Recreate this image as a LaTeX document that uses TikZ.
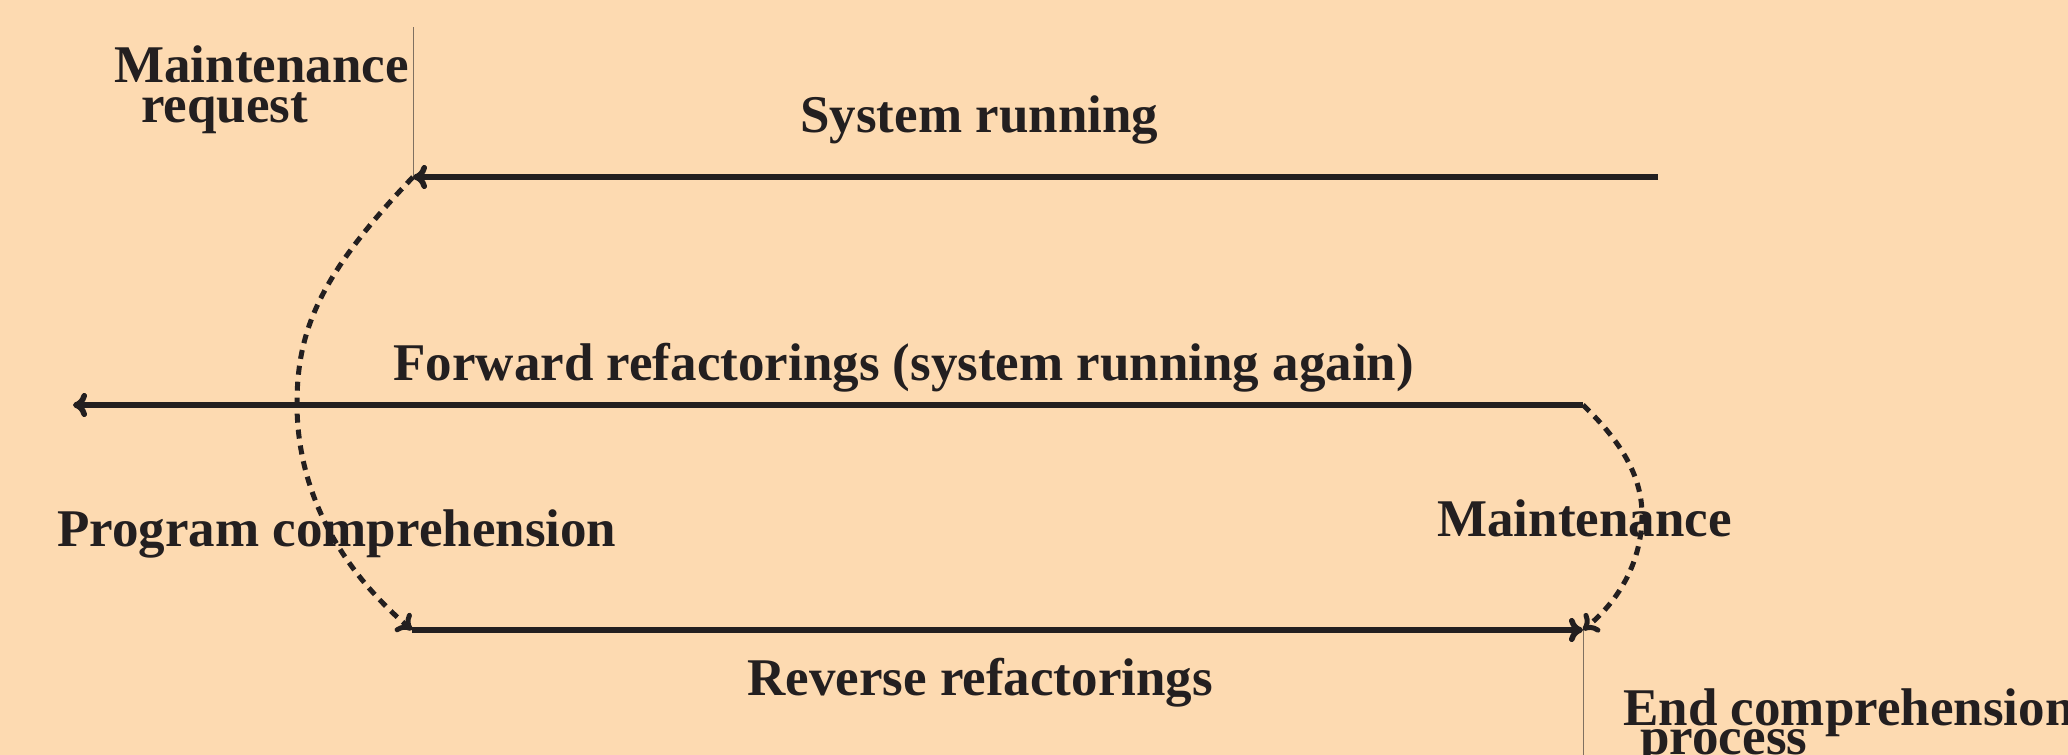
\documentclass[tikz,border=0pt]{standalone}
\usepackage{fontspec}
\setmainfont{Liberation Serif}
\usetikzlibrary{arrows.meta}

\definecolor{peach}{RGB}{253,218,177}
\definecolor{ink}{RGB}{35,31,32}
\definecolor{rulegray}{RGB}{128,112,96}

\tikzset{
  lbl/.style={anchor=base west, inner sep=0pt, text=ink,
    font=\fontsize{26.5}{26.5}\selectfont\bfseries},
  flow/.style={draw=ink, line width=2.8pt, -{To[length=7pt,width=12pt]}},
  dashedflow/.style={flow, line width=2.5pt, dash pattern=on 4.5pt off 3.5pt},
  thinrule/.style={draw=rulegray, line width=0.5pt}
}

\begin{document}
\begin{tikzpicture}[x=0.5pt, y=-0.5pt]
      \fill[peach] (0,0) rectangle (2068,755);
      \useasboundingbox (0,0) rectangle (2068,755);
      % labels
      \node[lbl] (mreq1) at (114,83) {Maintenance};
      \node[lbl] (mreq2) at (141,122) {request};
      \node[lbl] (sysrun) at (800,132) {System running};
      \node[lbl] (fwd) at (393,380) {Forward refactorings (system running again)};
      \node[lbl] (progcomp) at (57,546) {Program comprehension};
      \node[lbl] (maint) at (1437,536) {Maintenance};
      \node[lbl] (rev) at (747,695) {Reverse refactorings};
      \node[lbl] (endcomp1) at (1623,725) {End comprehension};
      \node[lbl] (endcomp2) at (1640,754) {process};
      % junction points
      \coordinate (reqtop) at (413,27);
      \coordinate (request) at (413,177);
      \coordinate (runstart) at (1658,177);
      \coordinate (fwdstart) at (1583,405);
      \coordinate (fwdend) at (73,405);
      \coordinate (revstart) at (412,630);
      \coordinate (revend) at (1583,630);
      \coordinate (endbot) at (1583,755);
      % time marks
      \draw[thinrule] (reqtop) -- (request);
      \draw[thinrule] (revend) -- (endbot);
      % phases
      \draw[flow] (runstart) -- (request);
      \draw[flow] (fwdstart) -- (fwdend);
      \draw[flow] (revstart) -- (revend);
      \draw[dashedflow] (request) .. controls (320,275) and (297,330) .. (297,404)
        .. controls (297,480) and (330,560) .. (revstart);
      \draw[dashedflow] (fwdstart) .. controls (1625,445) and (1642,480) .. (1642,515)
        .. controls (1642,560) and (1620,600) .. (revend);
\end{tikzpicture}
\end{document}
